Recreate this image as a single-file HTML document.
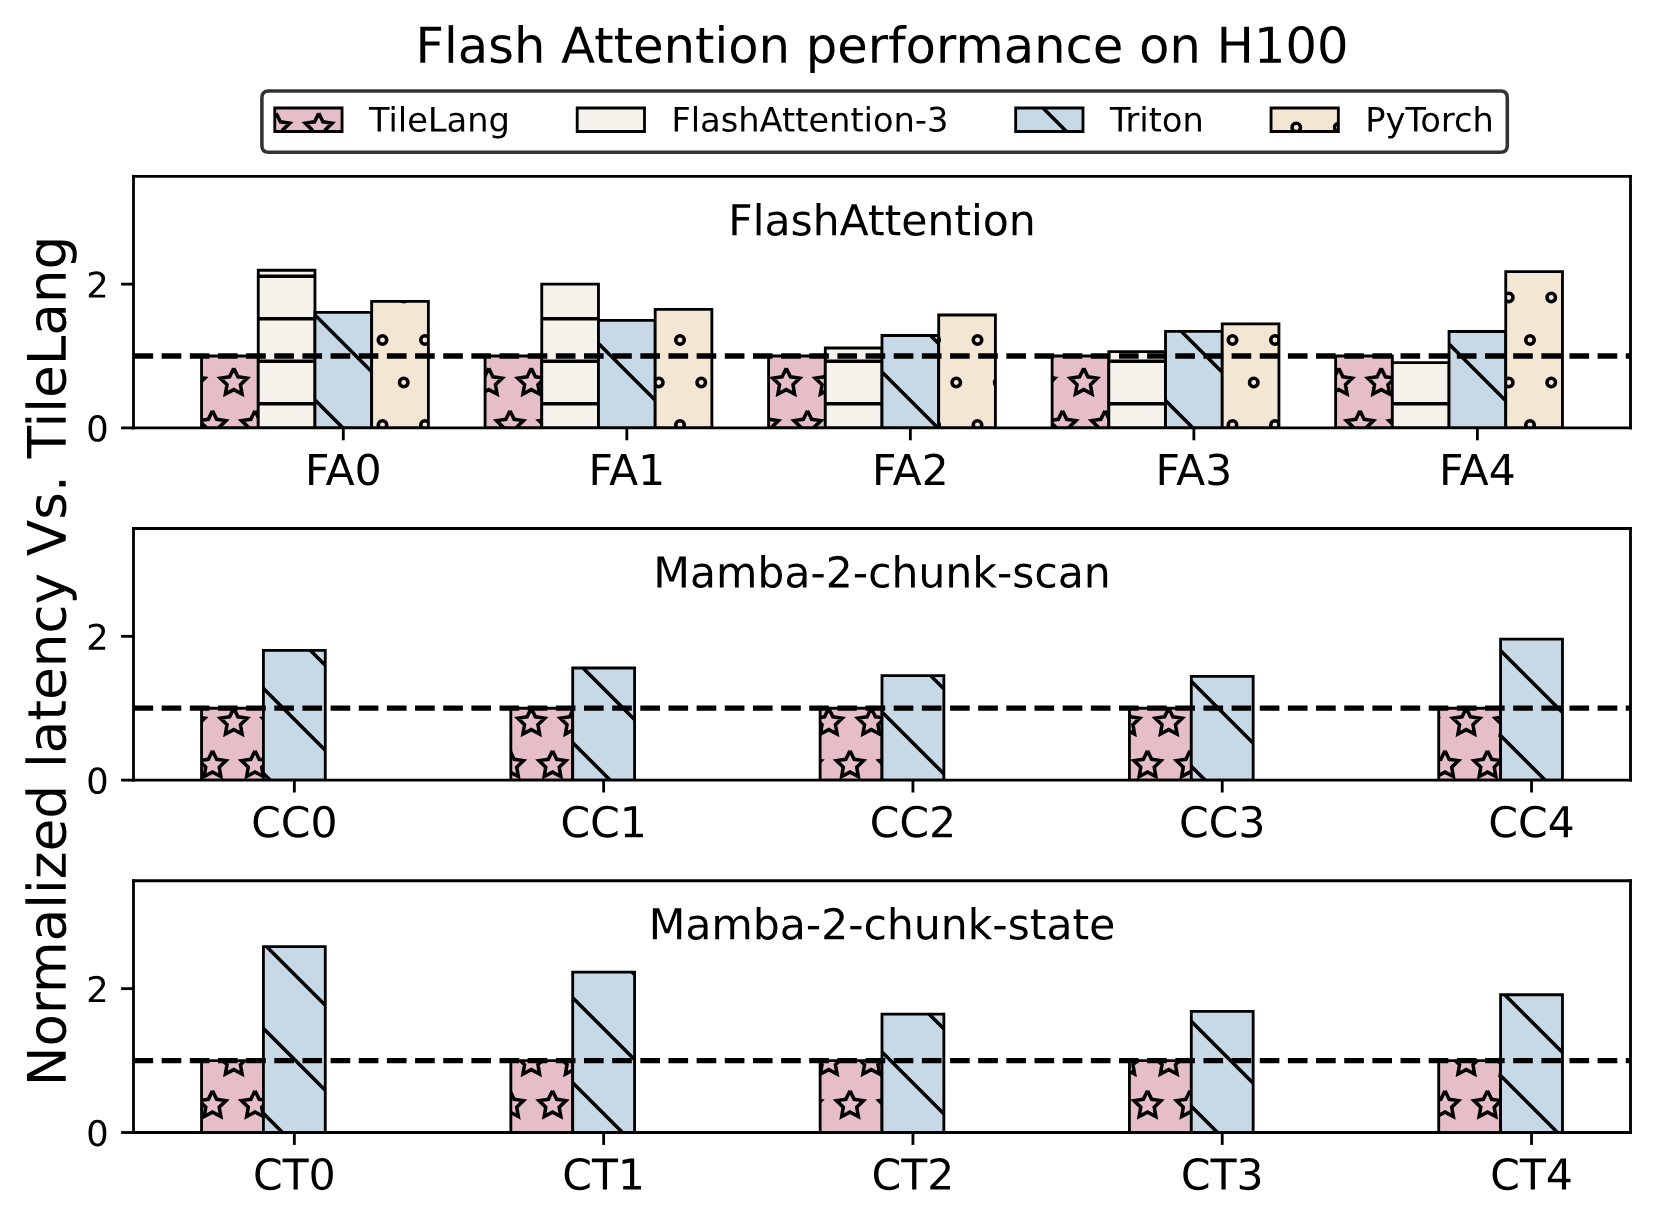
<!DOCTYPE html>
<html><head><meta charset="utf-8"><title>Flash Attention performance on H100</title>
<style>html,body{margin:0;padding:0;background:#fff;font-family:"Liberation Sans",sans-serif}svg{display:block}</style>
</head><body>
<svg width="1655" height="1224" viewBox="0 0 467.294118 345.6" style="display:block"> <defs> <style type="text/css">*{stroke-linejoin: round; stroke-linecap: butt}</style> </defs> <g id="figure_1"> <g id="patch_1"> <path d="M 0 345.6 L 467.294118 345.6 L 467.294118 0 L 0 0 z " style="fill: #ffffff"/> </g> <g id="axes_1"> <g id="patch_2"> <path d="M 37.694118 120.818824 L 460.376471 120.818824 L 460.376471 49.778824 L 37.694118 49.778824 z " style="fill: #ffffff"/> </g> <g id="patch_3"> <path d="M 56.906952 120.818824 L 72.917647 120.818824 L 72.917647 100.521681 L 56.906952 100.521681 z " clip-path="url(#pe64298fb3a)" style="fill: url(#h620132595f); stroke: #000000; stroke-width: 0.8; stroke-linejoin: miter"/> </g> <g id="patch_4"> <path d="M 136.960428 120.818824 L 152.971123 120.818824 L 152.971123 100.521681 L 136.960428 100.521681 z " clip-path="url(#pe64298fb3a)" style="fill: url(#h620132595f); stroke: #000000; stroke-width: 0.8; stroke-linejoin: miter"/> </g> <g id="patch_5"> <path d="M 217.013904 120.818824 L 233.024599 120.818824 L 233.024599 100.521681 L 217.013904 100.521681 z " clip-path="url(#pe64298fb3a)" style="fill: url(#h620132595f); stroke: #000000; stroke-width: 0.8; stroke-linejoin: miter"/> </g> <g id="patch_6"> <path d="M 297.06738 120.818824 L 313.078075 120.818824 L 313.078075 100.521681 L 297.06738 100.521681 z " clip-path="url(#pe64298fb3a)" style="fill: url(#h620132595f); stroke: #000000; stroke-width: 0.8; stroke-linejoin: miter"/> </g> <g id="patch_7"> <path d="M 377.120856 120.818824 L 393.131551 120.818824 L 393.131551 100.521681 L 377.120856 100.521681 z " clip-path="url(#pe64298fb3a)" style="fill: url(#h620132595f); stroke: #000000; stroke-width: 0.8; stroke-linejoin: miter"/> </g> <g id="patch_8"> <path d="M 72.917647 120.818824 L 88.928342 120.818824 L 88.928342 76.307189 L 72.917647 76.307189 z " clip-path="url(#pe64298fb3a)" style="fill: url(#h289ddef355); stroke: #000000; stroke-width: 0.8; stroke-linejoin: miter"/> </g> <g id="patch_9"> <path d="M 152.971123 120.818824 L 168.981818 120.818824 L 168.981818 80.224538 L 152.971123 80.224538 z " clip-path="url(#pe64298fb3a)" style="fill: url(#h289ddef355); stroke: #000000; stroke-width: 0.8; stroke-linejoin: miter"/> </g> <g id="patch_10"> <path d="M 233.024599 120.818824 L 249.035294 120.818824 L 249.035294 98.248401 L 233.024599 98.248401 z " clip-path="url(#pe64298fb3a)" style="fill: url(#h289ddef355); stroke: #000000; stroke-width: 0.8; stroke-linejoin: miter"/> </g> <g id="patch_11"> <path d="M 313.078075 120.818824 L 329.08877 120.818824 L 329.08877 99.263258 L 313.078075 99.263258 z " clip-path="url(#pe64298fb3a)" style="fill: url(#h289ddef355); stroke: #000000; stroke-width: 0.8; stroke-linejoin: miter"/> </g> <g id="patch_12"> <path d="M 393.131551 120.818824 L 409.142246 120.818824 L 409.142246 102.368721 L 393.131551 102.368721 z " clip-path="url(#pe64298fb3a)" style="fill: url(#h289ddef355); stroke: #000000; stroke-width: 0.8; stroke-linejoin: miter"/> </g> <g id="patch_13"> <path d="M 88.928342 120.818824 L 104.939037 120.818824 L 104.939037 88.221612 L 88.928342 88.221612 z " clip-path="url(#pe64298fb3a)" style="fill: url(#h3085ee2d03); stroke: #000000; stroke-width: 0.8; stroke-linejoin: miter"/> </g> <g id="patch_14"> <path d="M 168.981818 120.818824 L 184.992513 120.818824 L 184.992513 90.454298 L 168.981818 90.454298 z " clip-path="url(#pe64298fb3a)" style="fill: url(#h3085ee2d03); stroke: #000000; stroke-width: 0.8; stroke-linejoin: miter"/> </g> <g id="patch_15"> <path d="M 249.035294 120.818824 L 265.045989 120.818824 L 265.045989 94.736995 L 249.035294 94.736995 z " clip-path="url(#pe64298fb3a)" style="fill: url(#h3085ee2d03); stroke: #000000; stroke-width: 0.8; stroke-linejoin: miter"/> </g> <g id="patch_16"> <path d="M 329.08877 120.818824 L 345.099465 120.818824 L 345.099465 93.580058 L 329.08877 93.580058 z " clip-path="url(#pe64298fb3a)" style="fill: url(#h3085ee2d03); stroke: #000000; stroke-width: 0.8; stroke-linejoin: miter"/> </g> <g id="patch_17"> <path d="M 409.142246 120.818824 L 425.152941 120.818824 L 425.152941 93.600355 L 409.142246 93.600355 z " clip-path="url(#pe64298fb3a)" style="fill: url(#h3085ee2d03); stroke: #000000; stroke-width: 0.8; stroke-linejoin: miter"/> </g> <g id="patch_18"> <path d="M 104.939037 120.818824 L 120.949733 120.818824 L 120.949733 85.116149 L 104.939037 85.116149 z " clip-path="url(#pe64298fb3a)" style="fill: url(#h5ad2b0692a); stroke: #000000; stroke-width: 0.8; stroke-linejoin: miter"/> </g> <g id="patch_19"> <path d="M 184.992513 120.818824 L 201.003209 120.818824 L 201.003209 87.348835 L 184.992513 87.348835 z " clip-path="url(#pe64298fb3a)" style="fill: url(#h5ad2b0692a); stroke: #000000; stroke-width: 0.8; stroke-linejoin: miter"/> </g> <g id="patch_20"> <path d="M 265.045989 120.818824 L 281.056684 120.818824 L 281.056684 88.932012 L 265.045989 88.932012 z " clip-path="url(#pe64298fb3a)" style="fill: url(#h5ad2b0692a); stroke: #000000; stroke-width: 0.8; stroke-linejoin: miter"/> </g> <g id="patch_21"> <path d="M 345.099465 120.818824 L 361.11016 120.818824 L 361.11016 91.448858 L 345.099465 91.448858 z " clip-path="url(#pe64298fb3a)" style="fill: url(#h5ad2b0692a); stroke: #000000; stroke-width: 0.8; stroke-linejoin: miter"/> </g> <g id="patch_22"> <path d="M 425.152941 120.818824 L 441.163636 120.818824 L 441.163636 76.672538 L 425.152941 76.672538 z " clip-path="url(#pe64298fb3a)" style="fill: url(#h5ad2b0692a); stroke: #000000; stroke-width: 0.8; stroke-linejoin: miter"/> </g> <g id="matplotlib.axis_1"> <g id="xtick_1"> <g id="line2d_1"> <defs> <path id="m1504cfccaf" d="M 0 0 L 0 3.5 " style="stroke: #000000; stroke-width: 0.8"/> </defs> <g> <use href="#m1504cfccaf" x="96.93369" y="120.818824" style="stroke: #000000; stroke-width: 0.8"/> </g> </g> <g id="text_1"> <!-- FA0 --> <g transform="translate(86.108377 136.936949) scale(0.12 -0.12)"> <defs> <path id="DejaVuSans-46" d="M 628 4666 L 3309 4666 L 3309 4134 L 1259 4134 L 1259 2759 L 3109 2759 L 3109 2228 L 1259 2228 L 1259 0 L 628 0 L 628 4666 z " transform="scale(0.015625)"/> <path id="DejaVuSans-41" d="M 2188 4044 L 1331 1722 L 3047 1722 L 2188 4044 z M 1831 4666 L 2547 4666 L 4325 0 L 3669 0 L 3244 1197 L 1141 1197 L 716 0 L 50 0 L 1831 4666 z " transform="scale(0.015625)"/> <path id="DejaVuSans-30" d="M 2034 4250 Q 1547 4250 1301 3770 Q 1056 3291 1056 2328 Q 1056 1369 1301 889 Q 1547 409 2034 409 Q 2525 409 2770 889 Q 3016 1369 3016 2328 Q 3016 3291 2770 3770 Q 2525 4250 2034 4250 z M 2034 4750 Q 2819 4750 3233 4129 Q 3647 3509 3647 2328 Q 3647 1150 3233 529 Q 2819 -91 2034 -91 Q 1250 -91 836 529 Q 422 1150 422 2328 Q 422 3509 836 4129 Q 1250 4750 2034 4750 z " transform="scale(0.015625)"/> </defs> <use href="#DejaVuSans-46"/> <use href="#DejaVuSans-41" transform="translate(48.394531 0)"/> <use href="#DejaVuSans-30" transform="translate(116.802734 0)"/> </g> </g> </g> <g id="xtick_2"> <g id="line2d_2"> <g> <use href="#m1504cfccaf" x="176.987166" y="120.818824" style="stroke: #000000; stroke-width: 0.8"/> </g> </g> <g id="text_2"> <!-- FA1 --> <g transform="translate(166.161853 136.936949) scale(0.12 -0.12)"> <defs> <path id="DejaVuSans-31" d="M 794 531 L 1825 531 L 1825 4091 L 703 3866 L 703 4441 L 1819 4666 L 2450 4666 L 2450 531 L 3481 531 L 3481 0 L 794 0 L 794 531 z " transform="scale(0.015625)"/> </defs> <use href="#DejaVuSans-46"/> <use href="#DejaVuSans-41" transform="translate(48.394531 0)"/> <use href="#DejaVuSans-31" transform="translate(116.802734 0)"/> </g> </g> </g> <g id="xtick_3"> <g id="line2d_3"> <g> <use href="#m1504cfccaf" x="257.040642" y="120.818824" style="stroke: #000000; stroke-width: 0.8"/> </g> </g> <g id="text_3"> <!-- FA2 --> <g transform="translate(246.215329 136.936949) scale(0.12 -0.12)"> <defs> <path id="DejaVuSans-32" d="M 1228 531 L 3431 531 L 3431 0 L 469 0 L 469 531 Q 828 903 1448 1529 Q 2069 2156 2228 2338 Q 2531 2678 2651 2914 Q 2772 3150 2772 3378 Q 2772 3750 2511 3984 Q 2250 4219 1831 4219 Q 1534 4219 1204 4116 Q 875 4013 500 3803 L 500 4441 Q 881 4594 1212 4672 Q 1544 4750 1819 4750 Q 2544 4750 2975 4387 Q 3406 4025 3406 3419 Q 3406 3131 3298 2873 Q 3191 2616 2906 2266 Q 2828 2175 2409 1742 Q 1991 1309 1228 531 z " transform="scale(0.015625)"/> </defs> <use href="#DejaVuSans-46"/> <use href="#DejaVuSans-41" transform="translate(48.394531 0)"/> <use href="#DejaVuSans-32" transform="translate(116.802734 0)"/> </g> </g> </g> <g id="xtick_4"> <g id="line2d_4"> <g> <use href="#m1504cfccaf" x="337.094118" y="120.818824" style="stroke: #000000; stroke-width: 0.8"/> </g> </g> <g id="text_4"> <!-- FA3 --> <g transform="translate(326.268805 136.936949) scale(0.12 -0.12)"> <defs> <path id="DejaVuSans-33" d="M 2597 2516 Q 3050 2419 3304 2112 Q 3559 1806 3559 1356 Q 3559 666 3084 287 Q 2609 -91 1734 -91 Q 1441 -91 1130 -33 Q 819 25 488 141 L 488 750 Q 750 597 1062 519 Q 1375 441 1716 441 Q 2309 441 2620 675 Q 2931 909 2931 1356 Q 2931 1769 2642 2001 Q 2353 2234 1838 2234 L 1294 2234 L 1294 2753 L 1863 2753 Q 2328 2753 2575 2939 Q 2822 3125 2822 3475 Q 2822 3834 2567 4026 Q 2313 4219 1838 4219 Q 1578 4219 1281 4162 Q 984 4106 628 3988 L 628 4550 Q 988 4650 1302 4700 Q 1616 4750 1894 4750 Q 2613 4750 3031 4423 Q 3450 4097 3450 3541 Q 3450 3153 3228 2886 Q 3006 2619 2597 2516 z " transform="scale(0.015625)"/> </defs> <use href="#DejaVuSans-46"/> <use href="#DejaVuSans-41" transform="translate(48.394531 0)"/> <use href="#DejaVuSans-33" transform="translate(116.802734 0)"/> </g> </g> </g> <g id="xtick_5"> <g id="line2d_5"> <g> <use href="#m1504cfccaf" x="417.147594" y="120.818824" style="stroke: #000000; stroke-width: 0.8"/> </g> </g> <g id="text_5"> <!-- FA4 --> <g transform="translate(406.322281 136.936949) scale(0.12 -0.12)"> <defs> <path id="DejaVuSans-34" d="M 2419 4116 L 825 1625 L 2419 1625 L 2419 4116 z M 2253 4666 L 3047 4666 L 3047 1625 L 3713 1625 L 3713 1100 L 3047 1100 L 3047 0 L 2419 0 L 2419 1100 L 313 1100 L 313 1709 L 2253 4666 z " transform="scale(0.015625)"/> </defs> <use href="#DejaVuSans-46"/> <use href="#DejaVuSans-41" transform="translate(48.394531 0)"/> <use href="#DejaVuSans-34" transform="translate(116.802734 0)"/> </g> </g> </g> </g> <g id="matplotlib.axis_2"> <g id="ytick_1"> <g id="line2d_6"> <defs> <path id="m5d545ce8f8" d="M 0 0 L -3.5 0 " style="stroke: #000000; stroke-width: 0.8"/> </defs> <g> <use href="#m5d545ce8f8" x="37.694118" y="120.818824" style="stroke: #000000; stroke-width: 0.8"/> </g> </g> <g id="text_6"> <!-- 0 --> <g transform="translate(24.331618 124.618042) scale(0.1 -0.1)"> <use href="#DejaVuSans-30"/> </g> </g> </g> <g id="ytick_2"> <g id="line2d_7"> <g> <use href="#m5d545ce8f8" x="37.694118" y="80.224538" style="stroke: #000000; stroke-width: 0.8"/> </g> </g> <g id="text_7"> <!-- 2 --> <g transform="translate(24.331618 84.023757) scale(0.1 -0.1)"> <use href="#DejaVuSans-32"/> </g> </g> </g> </g> <g id="line2d_8"> <path d="M 37.694118 100.521681 L 460.376471 100.521681 " clip-path="url(#pe64298fb3a)" style="fill: none; stroke-dasharray: 5.55,2.4; stroke-dashoffset: 0; stroke: #000000; stroke-width: 1.5"/> </g> <g id="patch_23"> <path d="M 37.694118 120.818824 L 37.694118 49.778824 " style="fill: none; stroke: #000000; stroke-width: 0.8; stroke-linejoin: miter; stroke-linecap: square"/> </g> <g id="patch_24"> <path d="M 460.376471 120.818824 L 460.376471 49.778824 " style="fill: none; stroke: #000000; stroke-width: 0.8; stroke-linejoin: miter; stroke-linecap: square"/> </g> <g id="patch_25"> <path d="M 37.694118 120.818824 L 460.376471 120.818824 " style="fill: none; stroke: #000000; stroke-width: 0.8; stroke-linejoin: miter; stroke-linecap: square"/> </g> <g id="patch_26"> <path d="M 37.694118 49.778824 L 460.376471 49.778824 " style="fill: none; stroke: #000000; stroke-width: 0.8; stroke-linejoin: miter; stroke-linecap: square"/> </g> </g> <g id="axes_2"> <g id="patch_27"> <path d="M 37.694118 220.263529 L 460.376471 220.263529 L 460.376471 149.223529 L 37.694118 149.223529 z " style="fill: #ffffff"/> </g> <g id="patch_28"> <path d="M 56.906952 220.263529 L 74.373165 220.263529 L 74.373165 199.966387 L 56.906952 199.966387 z " clip-path="url(#p5a25ac48e3)" style="fill: url(#h620132595f); stroke: #000000; stroke-width: 0.8; stroke-linejoin: miter"/> </g> <g id="patch_29"> <path d="M 144.238017 220.263529 L 161.704229 220.263529 L 161.704229 199.966387 L 144.238017 199.966387 z " clip-path="url(#p5a25ac48e3)" style="fill: url(#h620132595f); stroke: #000000; stroke-width: 0.8; stroke-linejoin: miter"/> </g> <g id="patch_30"> <path d="M 231.569081 220.263529 L 249.035294 220.263529 L 249.035294 199.966387 L 231.569081 199.966387 z " clip-path="url(#p5a25ac48e3)" style="fill: url(#h620132595f); stroke: #000000; stroke-width: 0.8; stroke-linejoin: miter"/> </g> <g id="patch_31"> <path d="M 318.900146 220.263529 L 336.366359 220.263529 L 336.366359 199.966387 L 318.900146 199.966387 z " clip-path="url(#p5a25ac48e3)" style="fill: url(#h620132595f); stroke: #000000; stroke-width: 0.8; stroke-linejoin: miter"/> </g> <g id="patch_32"> <path d="M 406.231211 220.263529 L 423.697423 220.263529 L 423.697423 199.966387 L 406.231211 199.966387 z " clip-path="url(#p5a25ac48e3)" style="fill: url(#h620132595f); stroke: #000000; stroke-width: 0.8; stroke-linejoin: miter"/> </g> <g id="patch_33"> <path d="M 74.373165 220.263529 L 91.839378 220.263529 L 91.839378 183.647484 L 74.373165 183.647484 z " clip-path="url(#p5a25ac48e3)" style="fill: url(#h3085ee2d03); stroke: #000000; stroke-width: 0.8; stroke-linejoin: miter"/> </g> <g id="patch_34"> <path d="M 161.704229 220.263529 L 179.170442 220.263529 L 179.170442 188.620284 L 161.704229 188.620284 z " clip-path="url(#p5a25ac48e3)" style="fill: url(#h3085ee2d03); stroke: #000000; stroke-width: 0.8; stroke-linejoin: miter"/> </g> <g id="patch_35"> <path d="M 249.035294 220.263529 L 266.501507 220.263529 L 266.501507 190.741335 L 249.035294 190.741335 z " clip-path="url(#p5a25ac48e3)" style="fill: url(#h3085ee2d03); stroke: #000000; stroke-width: 0.8; stroke-linejoin: miter"/> </g> <g id="patch_36"> <path d="M 336.366359 220.263529 L 353.832572 220.263529 L 353.832572 190.995049 L 336.366359 190.995049 z " clip-path="url(#p5a25ac48e3)" style="fill: url(#h3085ee2d03); stroke: #000000; stroke-width: 0.8; stroke-linejoin: miter"/> </g> <g id="patch_37"> <path d="M 423.697423 220.263529 L 441.163636 220.263529 L 441.163636 180.440535 L 423.697423 180.440535 z " clip-path="url(#p5a25ac48e3)" style="fill: url(#h3085ee2d03); stroke: #000000; stroke-width: 0.8; stroke-linejoin: miter"/> </g> <g id="matplotlib.axis_3"> <g id="xtick_6"> <g id="line2d_9"> <g> <use href="#m1504cfccaf" x="83.106271" y="220.263529" style="stroke: #000000; stroke-width: 0.8"/> </g> </g> <g id="text_8"> <!-- CC0 --> <g transform="translate(70.909396 236.381654) scale(0.12 -0.12)"> <defs> <path id="DejaVuSans-43" d="M 4122 4306 L 4122 3641 Q 3803 3938 3442 4084 Q 3081 4231 2675 4231 Q 1875 4231 1450 3742 Q 1025 3253 1025 2328 Q 1025 1406 1450 917 Q 1875 428 2675 428 Q 3081 428 3442 575 Q 3803 722 4122 1019 L 4122 359 Q 3791 134 3420 21 Q 3050 -91 2638 -91 Q 1578 -91 968 557 Q 359 1206 359 2328 Q 359 3453 968 4101 Q 1578 4750 2638 4750 Q 3056 4750 3426 4639 Q 3797 4528 4122 4306 z " transform="scale(0.015625)"/> </defs> <use href="#DejaVuSans-43"/> <use href="#DejaVuSans-43" transform="translate(69.824219 0)"/> <use href="#DejaVuSans-30" transform="translate(139.648438 0)"/> </g> </g> </g> <g id="xtick_7"> <g id="line2d_10"> <g> <use href="#m1504cfccaf" x="170.437336" y="220.263529" style="stroke: #000000; stroke-width: 0.8"/> </g> </g> <g id="text_9"> <!-- CC1 --> <g transform="translate(158.240461 236.381654) scale(0.12 -0.12)"> <use href="#DejaVuSans-43"/> <use href="#DejaVuSans-43" transform="translate(69.824219 0)"/> <use href="#DejaVuSans-31" transform="translate(139.648438 0)"/> </g> </g> </g> <g id="xtick_8"> <g id="line2d_11"> <g> <use href="#m1504cfccaf" x="257.768401" y="220.263529" style="stroke: #000000; stroke-width: 0.8"/> </g> </g> <g id="text_10"> <!-- CC2 --> <g transform="translate(245.571526 236.381654) scale(0.12 -0.12)"> <use href="#DejaVuSans-43"/> <use href="#DejaVuSans-43" transform="translate(69.824219 0)"/> <use href="#DejaVuSans-32" transform="translate(139.648438 0)"/> </g> </g> </g> <g id="xtick_9"> <g id="line2d_12"> <g> <use href="#m1504cfccaf" x="345.099465" y="220.263529" style="stroke: #000000; stroke-width: 0.8"/> </g> </g> <g id="text_11"> <!-- CC3 --> <g transform="translate(332.90259 236.381654) scale(0.12 -0.12)"> <use href="#DejaVuSans-43"/> <use href="#DejaVuSans-43" transform="translate(69.824219 0)"/> <use href="#DejaVuSans-33" transform="translate(139.648438 0)"/> </g> </g> </g> <g id="xtick_10"> <g id="line2d_13"> <g> <use href="#m1504cfccaf" x="432.43053" y="220.263529" style="stroke: #000000; stroke-width: 0.8"/> </g> </g> <g id="text_12"> <!-- CC4 --> <g transform="translate(420.233655 236.381654) scale(0.12 -0.12)"> <use href="#DejaVuSans-43"/> <use href="#DejaVuSans-43" transform="translate(69.824219 0)"/> <use href="#DejaVuSans-34" transform="translate(139.648438 0)"/> </g> </g> </g> </g> <g id="matplotlib.axis_4"> <g id="ytick_3"> <g id="line2d_14"> <g> <use href="#m5d545ce8f8" x="37.694118" y="220.263529" style="stroke: #000000; stroke-width: 0.8"/> </g> </g> <g id="text_13"> <!-- 0 --> <g transform="translate(24.331618 224.062748) scale(0.1 -0.1)"> <use href="#DejaVuSans-30"/> </g> </g> </g> <g id="ytick_4"> <g id="line2d_15"> <g> <use href="#m5d545ce8f8" x="37.694118" y="179.669244" style="stroke: #000000; stroke-width: 0.8"/> </g> </g> <g id="text_14"> <!-- 2 --> <g transform="translate(24.331618 183.468462) scale(0.1 -0.1)"> <use href="#DejaVuSans-32"/> </g> </g> </g> </g> <g id="line2d_16"> <path d="M 37.694118 199.966387 L 460.376471 199.966387 " clip-path="url(#p5a25ac48e3)" style="fill: none; stroke-dasharray: 5.55,2.4; stroke-dashoffset: 0; stroke: #000000; stroke-width: 1.5"/> </g> <g id="patch_38"> <path d="M 37.694118 220.263529 L 37.694118 149.223529 " style="fill: none; stroke: #000000; stroke-width: 0.8; stroke-linejoin: miter; stroke-linecap: square"/> </g> <g id="patch_39"> <path d="M 460.376471 220.263529 L 460.376471 149.223529 " style="fill: none; stroke: #000000; stroke-width: 0.8; stroke-linejoin: miter; stroke-linecap: square"/> </g> <g id="patch_40"> <path d="M 37.694118 220.263529 L 460.376471 220.263529 " style="fill: none; stroke: #000000; stroke-width: 0.8; stroke-linejoin: miter; stroke-linecap: square"/> </g> <g id="patch_41"> <path d="M 37.694118 149.223529 L 460.376471 149.223529 " style="fill: none; stroke: #000000; stroke-width: 0.8; stroke-linejoin: miter; stroke-linecap: square"/> </g> </g> <g id="axes_3"> <g id="patch_42"> <path d="M 37.694118 319.764706 L 460.376471 319.764706 L 460.376471 248.682353 L 37.694118 248.682353 z " style="fill: #ffffff"/> </g> <g id="patch_43"> <path d="M 56.906952 319.764706 L 74.373165 319.764706 L 74.373165 299.455462 L 56.906952 299.455462 z " clip-path="url(#pf09d3c4350)" style="fill: url(#h620132595f); stroke: #000000; stroke-width: 0.8; stroke-linejoin: miter"/> </g> <g id="patch_44"> <path d="M 144.238017 319.764706 L 161.704229 319.764706 L 161.704229 299.455462 L 144.238017 299.455462 z " clip-path="url(#pf09d3c4350)" style="fill: url(#h620132595f); stroke: #000000; stroke-width: 0.8; stroke-linejoin: miter"/> </g> <g id="patch_45"> <path d="M 231.569081 319.764706 L 249.035294 319.764706 L 249.035294 299.455462 L 231.569081 299.455462 z " clip-path="url(#pf09d3c4350)" style="fill: url(#h620132595f); stroke: #000000; stroke-width: 0.8; stroke-linejoin: miter"/> </g> <g id="patch_46"> <path d="M 318.900146 319.764706 L 336.366359 319.764706 L 336.366359 299.455462 L 318.900146 299.455462 z " clip-path="url(#pf09d3c4350)" style="fill: url(#h620132595f); stroke: #000000; stroke-width: 0.8; stroke-linejoin: miter"/> </g> <g id="patch_47"> <path d="M 406.231211 319.764706 L 423.697423 319.764706 L 423.697423 299.455462 L 406.231211 299.455462 z " clip-path="url(#pf09d3c4350)" style="fill: url(#h620132595f); stroke: #000000; stroke-width: 0.8; stroke-linejoin: miter"/> </g> <g id="patch_48"> <path d="M 74.373165 319.764706 L 91.839378 319.764706 L 91.839378 267.28562 L 74.373165 267.28562 z " clip-path="url(#pf09d3c4350)" style="fill: url(#h3085ee2d03); stroke: #000000; stroke-width: 0.8; stroke-linejoin: miter"/> </g> <g id="patch_49"> <path d="M 161.704229 319.764706 L 179.170442 319.764706 L 179.170442 274.475092 L 161.704229 274.475092 z " clip-path="url(#pf09d3c4350)" style="fill: url(#h3085ee2d03); stroke: #000000; stroke-width: 0.8; stroke-linejoin: miter"/> </g> <g id="patch_50"> <path d="M 249.035294 319.764706 L 266.501507 319.764706 L 266.501507 286.356 L 249.035294 286.356 z " clip-path="url(#pf09d3c4350)" style="fill: url(#h3085ee2d03); stroke: #000000; stroke-width: 0.8; stroke-linejoin: miter"/> </g> <g id="patch_51"> <path d="M 336.366359 319.764706 L 353.832572 319.764706 L 353.832572 285.54363 L 336.366359 285.54363 z " clip-path="url(#pf09d3c4350)" style="fill: url(#h3085ee2d03); stroke: #000000; stroke-width: 0.8; stroke-linejoin: miter"/> </g> <g id="patch_52"> <path d="M 423.697423 319.764706 L 441.163636 319.764706 L 441.163636 280.872504 L 423.697423 280.872504 z " clip-path="url(#pf09d3c4350)" style="fill: url(#h3085ee2d03); stroke: #000000; stroke-width: 0.8; stroke-linejoin: miter"/> </g> <g id="matplotlib.axis_5"> <g id="xtick_11"> <g id="line2d_17"> <g> <use href="#m1504cfccaf" x="83.106271" y="319.764706" style="stroke: #000000; stroke-width: 0.8"/> </g> </g> <g id="text_15"> <!-- CT0 --> <g transform="translate(71.434396 335.882831) scale(0.12 -0.12)"> <defs> <path id="DejaVuSans-54" d="M -19 4666 L 3928 4666 L 3928 4134 L 2272 4134 L 2272 0 L 1638 0 L 1638 4134 L -19 4134 L -19 4666 z " transform="scale(0.015625)"/> </defs> <use href="#DejaVuSans-43"/> <use href="#DejaVuSans-54" transform="translate(69.824219 0)"/> <use href="#DejaVuSans-30" transform="translate(130.908203 0)"/> </g> </g> </g> <g id="xtick_12"> <g id="line2d_18"> <g> <use href="#m1504cfccaf" x="170.437336" y="319.764706" style="stroke: #000000; stroke-width: 0.8"/> </g> </g> <g id="text_16"> <!-- CT1 --> <g transform="translate(158.765461 335.882831) scale(0.12 -0.12)"> <use href="#DejaVuSans-43"/> <use href="#DejaVuSans-54" transform="translate(69.824219 0)"/> <use href="#DejaVuSans-31" transform="translate(130.908203 0)"/> </g> </g> </g> <g id="xtick_13"> <g id="line2d_19"> <g> <use href="#m1504cfccaf" x="257.768401" y="319.764706" style="stroke: #000000; stroke-width: 0.8"/> </g> </g> <g id="text_17"> <!-- CT2 --> <g transform="translate(246.096526 335.882831) scale(0.12 -0.12)"> <use href="#DejaVuSans-43"/> <use href="#DejaVuSans-54" transform="translate(69.824219 0)"/> <use href="#DejaVuSans-32" transform="translate(130.908203 0)"/> </g> </g> </g> <g id="xtick_14"> <g id="line2d_20"> <g> <use href="#m1504cfccaf" x="345.099465" y="319.764706" style="stroke: #000000; stroke-width: 0.8"/> </g> </g> <g id="text_18"> <!-- CT3 --> <g transform="translate(333.42759 335.882831) scale(0.12 -0.12)"> <use href="#DejaVuSans-43"/> <use href="#DejaVuSans-54" transform="translate(69.824219 0)"/> <use href="#DejaVuSans-33" transform="translate(130.908203 0)"/> </g> </g> </g> <g id="xtick_15"> <g id="line2d_21"> <g> <use href="#m1504cfccaf" x="432.43053" y="319.764706" style="stroke: #000000; stroke-width: 0.8"/> </g> </g> <g id="text_19"> <!-- CT4 --> <g transform="translate(420.758655 335.882831) scale(0.12 -0.12)"> <use href="#DejaVuSans-43"/> <use href="#DejaVuSans-54" transform="translate(69.824219 0)"/> <use href="#DejaVuSans-34" transform="translate(130.908203 0)"/> </g> </g> </g> </g> <g id="matplotlib.axis_6"> <g id="ytick_5"> <g id="line2d_22"> <g> <use href="#m5d545ce8f8" x="37.694118" y="319.764706" style="stroke: #000000; stroke-width: 0.8"/> </g> </g> <g id="text_20"> <!-- 0 --> <g transform="translate(24.331618 323.563925) scale(0.1 -0.1)"> <use href="#DejaVuSans-30"/> </g> </g> </g> <g id="ytick_6"> <g id="line2d_23"> <g> <use href="#m5d545ce8f8" x="37.694118" y="279.146218" style="stroke: #000000; stroke-width: 0.8"/> </g> </g> <g id="text_21"> <!-- 2 --> <g transform="translate(24.331618 282.945437) scale(0.1 -0.1)"> <use href="#DejaVuSans-32"/> </g> </g> </g> </g> <g id="line2d_24"> <path d="M 37.694118 299.455462 L 460.376471 299.455462 " clip-path="url(#pf09d3c4350)" style="fill: none; stroke-dasharray: 5.55,2.4; stroke-dashoffset: 0; stroke: #000000; stroke-width: 1.5"/> </g> <g id="patch_53"> <path d="M 37.694118 319.764706 L 37.694118 248.682353 " style="fill: none; stroke: #000000; stroke-width: 0.8; stroke-linejoin: miter; stroke-linecap: square"/> </g> <g id="patch_54"> <path d="M 460.376471 319.764706 L 460.376471 248.682353 " style="fill: none; stroke: #000000; stroke-width: 0.8; stroke-linejoin: miter; stroke-linecap: square"/> </g> <g id="patch_55"> <path d="M 37.694118 319.764706 L 460.376471 319.764706 " style="fill: none; stroke: #000000; stroke-width: 0.8; stroke-linejoin: miter; stroke-linecap: square"/> </g> <g id="patch_56"> <path d="M 37.694118 248.682353 L 460.376471 248.682353 " style="fill: none; stroke: #000000; stroke-width: 0.8; stroke-linejoin: miter; stroke-linecap: square"/> </g> </g> <g id="patch_57"> <path d="M 75.848243 42.974118 L 423.69058 42.974118 Q 425.590588 42.974118 425.590588 41.07411 L 425.590588 27.56589 Q 425.590588 25.665882 423.69058 25.665882 L 75.848243 25.665882 Q 73.948235 25.665882 73.948235 27.56589 L 73.948235 41.07411 Q 73.948235 42.974118 75.848243 42.974118 L 75.848243 42.974118 z " style="fill: none; stroke: #333333; stroke-linejoin: miter"/> </g> <g id="text_22"> <!-- FlashAttention --> <g transform="translate(205.621544 66.437647) scale(0.12 -0.12)"> <defs> <path id="DejaVuSans-6c" d="M 603 4863 L 1178 4863 L 1178 0 L 603 0 L 603 4863 z " transform="scale(0.015625)"/> <path id="DejaVuSans-61" d="M 2194 1759 Q 1497 1759 1228 1600 Q 959 1441 959 1056 Q 959 750 1161 570 Q 1363 391 1709 391 Q 2188 391 2477 730 Q 2766 1069 2766 1631 L 2766 1759 L 2194 1759 z M 3341 1997 L 3341 0 L 2766 0 L 2766 531 Q 2569 213 2275 61 Q 1981 -91 1556 -91 Q 1019 -91 701 211 Q 384 513 384 1019 Q 384 1609 779 1909 Q 1175 2209 1959 2209 L 2766 2209 L 2766 2266 Q 2766 2663 2505 2880 Q 2244 3097 1772 3097 Q 1472 3097 1187 3025 Q 903 2953 641 2809 L 641 3341 Q 956 3463 1253 3523 Q 1550 3584 1831 3584 Q 2591 3584 2966 3190 Q 3341 2797 3341 1997 z " transform="scale(0.015625)"/> <path id="DejaVuSans-73" d="M 2834 3397 L 2834 2853 Q 2591 2978 2328 3040 Q 2066 3103 1784 3103 Q 1356 3103 1142 2972 Q 928 2841 928 2578 Q 928 2378 1081 2264 Q 1234 2150 1697 2047 L 1894 2003 Q 2506 1872 2764 1633 Q 3022 1394 3022 966 Q 3022 478 2636 193 Q 2250 -91 1575 -91 Q 1294 -91 989 -36 Q 684 19 347 128 L 347 722 Q 666 556 975 473 Q 1284 391 1588 391 Q 1994 391 2212 530 Q 2431 669 2431 922 Q 2431 1156 2273 1281 Q 2116 1406 1581 1522 L 1381 1569 Q 847 1681 609 1914 Q 372 2147 372 2553 Q 372 3047 722 3315 Q 1072 3584 1716 3584 Q 2034 3584 2315 3537 Q 2597 3491 2834 3397 z " transform="scale(0.015625)"/> <path id="DejaVuSans-68" d="M 3513 2113 L 3513 0 L 2938 0 L 2938 2094 Q 2938 2591 2744 2837 Q 2550 3084 2163 3084 Q 1697 3084 1428 2787 Q 1159 2491 1159 1978 L 1159 0 L 581 0 L 581 4863 L 1159 4863 L 1159 2956 Q 1366 3272 1645 3428 Q 1925 3584 2291 3584 Q 2894 3584 3203 3211 Q 3513 2838 3513 2113 z " transform="scale(0.015625)"/> <path id="DejaVuSans-74" d="M 1172 4494 L 1172 3500 L 2356 3500 L 2356 3053 L 1172 3053 L 1172 1153 Q 1172 725 1289 603 Q 1406 481 1766 481 L 2356 481 L 2356 0 L 1766 0 Q 1100 0 847 248 Q 594 497 594 1153 L 594 3053 L 172 3053 L 172 3500 L 594 3500 L 594 4494 L 1172 4494 z " transform="scale(0.015625)"/> <path id="DejaVuSans-65" d="M 3597 1894 L 3597 1613 L 953 1613 Q 991 1019 1311 708 Q 1631 397 2203 397 Q 2534 397 2845 478 Q 3156 559 3463 722 L 3463 178 Q 3153 47 2828 -22 Q 2503 -91 2169 -91 Q 1331 -91 842 396 Q 353 884 353 1716 Q 353 2575 817 3079 Q 1281 3584 2069 3584 Q 2775 3584 3186 3129 Q 3597 2675 3597 1894 z M 3022 2063 Q 3016 2534 2758 2815 Q 2500 3097 2075 3097 Q 1594 3097 1305 2825 Q 1016 2553 972 2059 L 3022 2063 z " transform="scale(0.015625)"/> <path id="DejaVuSans-6e" d="M 3513 2113 L 3513 0 L 2938 0 L 2938 2094 Q 2938 2591 2744 2837 Q 2550 3084 2163 3084 Q 1697 3084 1428 2787 Q 1159 2491 1159 1978 L 1159 0 L 581 0 L 581 3500 L 1159 3500 L 1159 2956 Q 1366 3272 1645 3428 Q 1925 3584 2291 3584 Q 2894 3584 3203 3211 Q 3513 2838 3513 2113 z " transform="scale(0.015625)"/> <path id="DejaVuSans-69" d="M 603 3500 L 1178 3500 L 1178 0 L 603 0 L 603 3500 z M 603 4863 L 1178 4863 L 1178 4134 L 603 4134 L 603 4863 z " transform="scale(0.015625)"/> <path id="DejaVuSans-6f" d="M 1959 3097 Q 1497 3097 1228 2736 Q 959 2375 959 1747 Q 959 1119 1226 758 Q 1494 397 1959 397 Q 2419 397 2687 759 Q 2956 1122 2956 1747 Q 2956 2369 2687 2733 Q 2419 3097 1959 3097 z M 1959 3584 Q 2709 3584 3137 3096 Q 3566 2609 3566 1747 Q 3566 888 3137 398 Q 2709 -91 1959 -91 Q 1206 -91 779 398 Q 353 888 353 1747 Q 353 2609 779 3096 Q 1206 3584 1959 3584 z " transform="scale(0.015625)"/> </defs> <use href="#DejaVuSans-46"/> <use href="#DejaVuSans-6c" transform="translate(57.519531 0)"/> <use href="#DejaVuSans-61" transform="translate(85.302734 0)"/> <use href="#DejaVuSans-73" transform="translate(146.582031 0)"/> <use href="#DejaVuSans-68" transform="translate(198.681641 0)"/> <use href="#DejaVuSans-41" transform="translate(262.060547 0)"/> <use href="#DejaVuSans-74" transform="translate(328.71875 0)"/> <use href="#DejaVuSans-74" transform="translate(367.927734 0)"/> <use href="#DejaVuSans-65" transform="translate(407.136719 0)"/> <use href="#DejaVuSans-6e" transform="translate(468.660156 0)"/> <use href="#DejaVuSans-74" transform="translate(532.039062 0)"/> <use href="#DejaVuSans-69" transform="translate(571.248047 0)"/> <use href="#DejaVuSans-6f" transform="translate(599.03125 0)"/> <use href="#DejaVuSans-6e" transform="translate(660.212891 0)"/> </g> </g> <g id="text_23"> <!-- Mamba-2-chunk-scan --> <g transform="translate(184.454669 165.854118) scale(0.12 -0.12)"> <defs> <path id="DejaVuSans-4d" d="M 628 4666 L 1569 4666 L 2759 1491 L 3956 4666 L 4897 4666 L 4897 0 L 4281 0 L 4281 4097 L 3078 897 L 2444 897 L 1241 4097 L 1241 0 L 628 0 L 628 4666 z " transform="scale(0.015625)"/> <path id="DejaVuSans-6d" d="M 3328 2828 Q 3544 3216 3844 3400 Q 4144 3584 4550 3584 Q 5097 3584 5394 3201 Q 5691 2819 5691 2113 L 5691 0 L 5113 0 L 5113 2094 Q 5113 2597 4934 2840 Q 4756 3084 4391 3084 Q 3944 3084 3684 2787 Q 3425 2491 3425 1978 L 3425 0 L 2847 0 L 2847 2094 Q 2847 2600 2669 2842 Q 2491 3084 2119 3084 Q 1678 3084 1418 2786 Q 1159 2488 1159 1978 L 1159 0 L 581 0 L 581 3500 L 1159 3500 L 1159 2956 Q 1356 3278 1631 3431 Q 1906 3584 2284 3584 Q 2666 3584 2933 3390 Q 3200 3197 3328 2828 z " transform="scale(0.015625)"/> <path id="DejaVuSans-62" d="M 3116 1747 Q 3116 2381 2855 2742 Q 2594 3103 2138 3103 Q 1681 3103 1420 2742 Q 1159 2381 1159 1747 Q 1159 1113 1420 752 Q 1681 391 2138 391 Q 2594 391 2855 752 Q 3116 1113 3116 1747 z M 1159 2969 Q 1341 3281 1617 3432 Q 1894 3584 2278 3584 Q 2916 3584 3314 3078 Q 3713 2572 3713 1747 Q 3713 922 3314 415 Q 2916 -91 2278 -91 Q 1894 -91 1617 61 Q 1341 213 1159 525 L 1159 0 L 581 0 L 581 4863 L 1159 4863 L 1159 2969 z " transform="scale(0.015625)"/> <path id="DejaVuSans-2d" d="M 313 2009 L 1997 2009 L 1997 1497 L 313 1497 L 313 2009 z " transform="scale(0.015625)"/> <path id="DejaVuSans-63" d="M 3122 3366 L 3122 2828 Q 2878 2963 2633 3030 Q 2388 3097 2138 3097 Q 1578 3097 1268 2742 Q 959 2388 959 1747 Q 959 1106 1268 751 Q 1578 397 2138 397 Q 2388 397 2633 464 Q 2878 531 3122 666 L 3122 134 Q 2881 22 2623 -34 Q 2366 -91 2075 -91 Q 1284 -91 818 406 Q 353 903 353 1747 Q 353 2603 823 3093 Q 1294 3584 2113 3584 Q 2378 3584 2631 3529 Q 2884 3475 3122 3366 z " transform="scale(0.015625)"/> <path id="DejaVuSans-75" d="M 544 1381 L 544 3500 L 1119 3500 L 1119 1403 Q 1119 906 1312 657 Q 1506 409 1894 409 Q 2359 409 2629 706 Q 2900 1003 2900 1516 L 2900 3500 L 3475 3500 L 3475 0 L 2900 0 L 2900 538 Q 2691 219 2414 64 Q 2138 -91 1772 -91 Q 1169 -91 856 284 Q 544 659 544 1381 z M 1991 3584 L 1991 3584 z " transform="scale(0.015625)"/> <path id="DejaVuSans-6b" d="M 581 4863 L 1159 4863 L 1159 1991 L 2875 3500 L 3609 3500 L 1753 1863 L 3688 0 L 2938 0 L 1159 1709 L 1159 0 L 581 0 L 581 4863 z " transform="scale(0.015625)"/> </defs> <use href="#DejaVuSans-4d"/> <use href="#DejaVuSans-61" transform="translate(86.279297 0)"/> <use href="#DejaVuSans-6d" transform="translate(147.558594 0)"/> <use href="#DejaVuSans-62" transform="translate(244.970703 0)"/> <use href="#DejaVuSans-61" transform="translate(308.447266 0)"/> <use href="#DejaVuSans-2d" transform="translate(369.726562 0)"/> <use href="#DejaVuSans-32" transform="translate(405.810547 0)"/> <use href="#DejaVuSans-2d" transform="translate(469.433594 0)"/> <use href="#DejaVuSans-63" transform="translate(505.517578 0)"/> <use href="#DejaVuSans-68" transform="translate(560.498047 0)"/> <use href="#DejaVuSans-75" transform="translate(623.876953 0)"/> <use href="#DejaVuSans-6e" transform="translate(687.255859 0)"/> <use href="#DejaVuSans-6b" transform="translate(750.634766 0)"/> <use href="#DejaVuSans-2d" transform="translate(808.544922 0)"/> <use href="#DejaVuSans-73" transform="translate(844.628906 0)"/> <use href="#DejaVuSans-63" transform="translate(896.728516 0)"/> <use href="#DejaVuSans-61" transform="translate(951.708984 0)"/> <use href="#DejaVuSans-6e" transform="translate(1012.988281 0)"/> </g> </g> <g id="text_24"> <!-- Mamba-2-chunk-state --> <g transform="translate(183.159982 265.214118) scale(0.12 -0.12)"> <use href="#DejaVuSans-4d"/> <use href="#DejaVuSans-61" transform="translate(86.279297 0)"/> <use href="#DejaVuSans-6d" transform="translate(147.558594 0)"/> <use href="#DejaVuSans-62" transform="translate(244.970703 0)"/> <use href="#DejaVuSans-61" transform="translate(308.447266 0)"/> <use href="#DejaVuSans-2d" transform="translate(369.726562 0)"/> <use href="#DejaVuSans-32" transform="translate(405.810547 0)"/> <use href="#DejaVuSans-2d" transform="translate(469.433594 0)"/> <use href="#DejaVuSans-63" transform="translate(505.517578 0)"/> <use href="#DejaVuSans-68" transform="translate(560.498047 0)"/> <use href="#DejaVuSans-75" transform="translate(623.876953 0)"/> <use href="#DejaVuSans-6e" transform="translate(687.255859 0)"/> <use href="#DejaVuSans-6b" transform="translate(750.634766 0)"/> <use href="#DejaVuSans-2d" transform="translate(808.544922 0)"/> <use href="#DejaVuSans-73" transform="translate(844.628906 0)"/> <use href="#DejaVuSans-74" transform="translate(896.728516 0)"/> <use href="#DejaVuSans-61" transform="translate(935.9375 0)"/> <use href="#DejaVuSans-74" transform="translate(997.216797 0)"/> <use href="#DejaVuSans-65" transform="translate(1036.425781 0)"/> </g> </g> <g id="text_25"> <!-- Flash Attention performance on H100 --> <g transform="translate(117.310607 17.731765) scale(0.14 -0.14)"> <defs> <path id="DejaVuSans-20" transform="scale(0.015625)"/> <path id="DejaVuSans-70" d="M 1159 525 L 1159 -1331 L 581 -1331 L 581 3500 L 1159 3500 L 1159 2969 Q 1341 3281 1617 3432 Q 1894 3584 2278 3584 Q 2916 3584 3314 3078 Q 3713 2572 3713 1747 Q 3713 922 3314 415 Q 2916 -91 2278 -91 Q 1894 -91 1617 61 Q 1341 213 1159 525 z M 3116 1747 Q 3116 2381 2855 2742 Q 2594 3103 2138 3103 Q 1681 3103 1420 2742 Q 1159 2381 1159 1747 Q 1159 1113 1420 752 Q 1681 391 2138 391 Q 2594 391 2855 752 Q 3116 1113 3116 1747 z " transform="scale(0.015625)"/> <path id="DejaVuSans-72" d="M 2631 2963 Q 2534 3019 2420 3045 Q 2306 3072 2169 3072 Q 1681 3072 1420 2755 Q 1159 2438 1159 1844 L 1159 0 L 581 0 L 581 3500 L 1159 3500 L 1159 2956 Q 1341 3275 1631 3429 Q 1922 3584 2338 3584 Q 2397 3584 2469 3576 Q 2541 3569 2628 3553 L 2631 2963 z " transform="scale(0.015625)"/> <path id="DejaVuSans-66" d="M 2375 4863 L 2375 4384 L 1825 4384 Q 1516 4384 1395 4259 Q 1275 4134 1275 3809 L 1275 3500 L 2222 3500 L 2222 3053 L 1275 3053 L 1275 0 L 697 0 L 697 3053 L 147 3053 L 147 3500 L 697 3500 L 697 3744 Q 697 4328 969 4595 Q 1241 4863 1831 4863 L 2375 4863 z " transform="scale(0.015625)"/> <path id="DejaVuSans-48" d="M 628 4666 L 1259 4666 L 1259 2753 L 3553 2753 L 3553 4666 L 4184 4666 L 4184 0 L 3553 0 L 3553 2222 L 1259 2222 L 1259 0 L 628 0 L 628 4666 z " transform="scale(0.015625)"/> </defs> <use href="#DejaVuSans-46"/> <use href="#DejaVuSans-6c" transform="translate(57.519531 0)"/> <use href="#DejaVuSans-61" transform="translate(85.302734 0)"/> <use href="#DejaVuSans-73" transform="translate(146.582031 0)"/> <use href="#DejaVuSans-68" transform="translate(198.681641 0)"/> <use href="#DejaVuSans-20" transform="translate(262.060547 0)"/> <use href="#DejaVuSans-41" transform="translate(293.847656 0)"/> <use href="#DejaVuSans-74" transform="translate(360.505859 0)"/> <use href="#DejaVuSans-74" transform="translate(399.714844 0)"/> <use href="#DejaVuSans-65" transform="translate(438.923828 0)"/> <use href="#DejaVuSans-6e" transform="translate(500.447266 0)"/> <use href="#DejaVuSans-74" transform="translate(563.826172 0)"/> <use href="#DejaVuSans-69" transform="translate(603.035156 0)"/> <use href="#DejaVuSans-6f" transform="translate(630.818359 0)"/> <use href="#DejaVuSans-6e" transform="translate(692 0)"/> <use href="#DejaVuSans-20" transform="translate(755.378906 0)"/> <use href="#DejaVuSans-70" transform="translate(787.166016 0)"/> <use href="#DejaVuSans-65" transform="translate(850.642578 0)"/> <use href="#DejaVuSans-72" transform="translate(912.166016 0)"/> <use href="#DejaVuSans-66" transform="translate(953.279297 0)"/> <use href="#DejaVuSans-6f" transform="translate(988.484375 0)"/> <use href="#DejaVuSans-72" transform="translate(1049.666016 0)"/> <use href="#DejaVuSans-6d" transform="translate(1089.029297 0)"/> <use href="#DejaVuSans-61" transform="translate(1186.441406 0)"/> <use href="#DejaVuSans-6e" transform="translate(1247.720703 0)"/> <use href="#DejaVuSans-63" transform="translate(1311.099609 0)"/> <use href="#DejaVuSans-65" transform="translate(1366.080078 0)"/> <use href="#DejaVuSans-20" transform="translate(1427.603516 0)"/> <use href="#DejaVuSans-6f" transform="translate(1459.390625 0)"/> <use href="#DejaVuSans-6e" transform="translate(1520.572266 0)"/> <use href="#DejaVuSans-20" transform="translate(1583.951172 0)"/> <use href="#DejaVuSans-48" transform="translate(1615.738281 0)"/> <use href="#DejaVuSans-31" transform="translate(1690.933594 0)"/> <use href="#DejaVuSans-30" transform="translate(1754.556641 0)"/> <use href="#DejaVuSans-30" transform="translate(1818.179688 0)"/> </g> </g> <g id="text_26"> <!-- Normalized latency Vs. TileLang --> <g transform="translate(18.550588 306.709122) rotate(-90) scale(0.15 -0.15)"> <defs> <path id="DejaVuSans-4e" d="M 628 4666 L 1478 4666 L 3547 763 L 3547 4666 L 4159 4666 L 4159 0 L 3309 0 L 1241 3903 L 1241 0 L 628 0 L 628 4666 z " transform="scale(0.015625)"/> <path id="DejaVuSans-7a" d="M 353 3500 L 3084 3500 L 3084 2975 L 922 459 L 3084 459 L 3084 0 L 275 0 L 275 525 L 2438 3041 L 353 3041 L 353 3500 z " transform="scale(0.015625)"/> <path id="DejaVuSans-64" d="M 2906 2969 L 2906 4863 L 3481 4863 L 3481 0 L 2906 0 L 2906 525 Q 2725 213 2448 61 Q 2172 -91 1784 -91 Q 1150 -91 751 415 Q 353 922 353 1747 Q 353 2572 751 3078 Q 1150 3584 1784 3584 Q 2172 3584 2448 3432 Q 2725 3281 2906 2969 z M 947 1747 Q 947 1113 1208 752 Q 1469 391 1925 391 Q 2381 391 2643 752 Q 2906 1113 2906 1747 Q 2906 2381 2643 2742 Q 2381 3103 1925 3103 Q 1469 3103 1208 2742 Q 947 2381 947 1747 z " transform="scale(0.015625)"/> <path id="DejaVuSans-79" d="M 2059 -325 Q 1816 -950 1584 -1140 Q 1353 -1331 966 -1331 L 506 -1331 L 506 -850 L 844 -850 Q 1081 -850 1212 -737 Q 1344 -625 1503 -206 L 1606 56 L 191 3500 L 800 3500 L 1894 763 L 2988 3500 L 3597 3500 L 2059 -325 z " transform="scale(0.015625)"/> <path id="DejaVuSans-56" d="M 1831 0 L 50 4666 L 709 4666 L 2188 738 L 3669 4666 L 4325 4666 L 2547 0 L 1831 0 z " transform="scale(0.015625)"/> <path id="DejaVuSans-2e" d="M 684 794 L 1344 794 L 1344 0 L 684 0 L 684 794 z " transform="scale(0.015625)"/> <path id="DejaVuSans-4c" d="M 628 4666 L 1259 4666 L 1259 531 L 3531 531 L 3531 0 L 628 0 L 628 4666 z " transform="scale(0.015625)"/> <path id="DejaVuSans-67" d="M 2906 1791 Q 2906 2416 2648 2759 Q 2391 3103 1925 3103 Q 1463 3103 1205 2759 Q 947 2416 947 1791 Q 947 1169 1205 825 Q 1463 481 1925 481 Q 2391 481 2648 825 Q 2906 1169 2906 1791 z M 3481 434 Q 3481 -459 3084 -895 Q 2688 -1331 1869 -1331 Q 1566 -1331 1297 -1286 Q 1028 -1241 775 -1147 L 775 -588 Q 1028 -725 1275 -790 Q 1522 -856 1778 -856 Q 2344 -856 2625 -561 Q 2906 -266 2906 331 L 2906 616 Q 2728 306 2450 153 Q 2172 0 1784 0 Q 1141 0 747 490 Q 353 981 353 1791 Q 353 2603 747 3093 Q 1141 3584 1784 3584 Q 2172 3584 2450 3431 Q 2728 3278 2906 2969 L 2906 3500 L 3481 3500 L 3481 434 z " transform="scale(0.015625)"/> </defs> <use href="#DejaVuSans-4e"/> <use href="#DejaVuSans-6f" transform="translate(74.804688 0)"/> <use href="#DejaVuSans-72" transform="translate(135.986328 0)"/> <use href="#DejaVuSans-6d" transform="translate(175.349609 0)"/> <use href="#DejaVuSans-61" transform="translate(272.761719 0)"/> <use href="#DejaVuSans-6c" transform="translate(334.041016 0)"/> <use href="#DejaVuSans-69" transform="translate(361.824219 0)"/> <use href="#DejaVuSans-7a" transform="translate(389.607422 0)"/> <use href="#DejaVuSans-65" transform="translate(442.097656 0)"/> <use href="#DejaVuSans-64" transform="translate(503.621094 0)"/> <use href="#DejaVuSans-20" transform="translate(567.097656 0)"/> <use href="#DejaVuSans-6c" transform="translate(598.884766 0)"/> <use href="#DejaVuSans-61" transform="translate(626.667969 0)"/> <use href="#DejaVuSans-74" transform="translate(687.947266 0)"/> <use href="#DejaVuSans-65" transform="translate(727.15625 0)"/> <use href="#DejaVuSans-6e" transform="translate(788.679688 0)"/> <use href="#DejaVuSans-63" transform="translate(852.058594 0)"/> <use href="#DejaVuSans-79" transform="translate(907.039062 0)"/> <use href="#DejaVuSans-20" transform="translate(966.21875 0)"/> <use href="#DejaVuSans-56" transform="translate(998.005859 0)"/> <use href="#DejaVuSans-73" transform="translate(1066.414062 0)"/> <use href="#DejaVuSans-2e" transform="translate(1118.513672 0)"/> <use href="#DejaVuSans-20" transform="translate(1150.300781 0)"/> <use href="#DejaVuSans-54" transform="translate(1182.087891 0)"/> <use href="#DejaVuSans-69" transform="translate(1240.046875 0)"/> <use href="#DejaVuSans-6c" transform="translate(1267.830078 0)"/> <use href="#DejaVuSans-65" transform="translate(1295.613281 0)"/> <use href="#DejaVuSans-4c" transform="translate(1357.136719 0)"/> <use href="#DejaVuSans-61" transform="translate(1412.849609 0)"/> <use href="#DejaVuSans-6e" transform="translate(1474.128906 0)"/> <use href="#DejaVuSans-67" transform="translate(1537.507812 0)"/> </g> </g> <g id="legend_1"> <g id="patch_58"> <path d="M 77.578824 37.136163 L 96.578824 37.136163 L 96.578824 30.486163 L 77.578824 30.486163 z " style="fill: url(#h620132595f); stroke: #000000; stroke-width: 0.8; stroke-linejoin: miter"/> </g> <g id="text_27"> <!-- TileLang --> <g transform="translate(104.178824 37.136163) scale(0.095 -0.095)"> <use href="#DejaVuSans-54"/> <use href="#DejaVuSans-69" transform="translate(57.958984 0)"/> <use href="#DejaVuSans-6c" transform="translate(85.742188 0)"/> <use href="#DejaVuSans-65" transform="translate(113.525391 0)"/> <use href="#DejaVuSans-4c" transform="translate(175.048828 0)"/> <use href="#DejaVuSans-61" transform="translate(230.761719 0)"/> <use href="#DejaVuSans-6e" transform="translate(292.041016 0)"/> <use href="#DejaVuSans-67" transform="translate(355.419922 0)"/> </g> </g> <g id="patch_59"> <path d="M 162.974917 37.136163 L 181.974917 37.136163 L 181.974917 30.486163 L 162.974917 30.486163 z " style="fill: url(#h289ddef355); stroke: #000000; stroke-width: 0.8; stroke-linejoin: miter"/> </g> <g id="text_28"> <!-- FlashAttention-3 --> <g transform="translate(189.574917 37.136163) scale(0.095 -0.095)"> <use href="#DejaVuSans-46"/> <use href="#DejaVuSans-6c" transform="translate(57.519531 0)"/> <use href="#DejaVuSans-61" transform="translate(85.302734 0)"/> <use href="#DejaVuSans-73" transform="translate(146.582031 0)"/> <use href="#DejaVuSans-68" transform="translate(198.681641 0)"/> <use href="#DejaVuSans-41" transform="translate(262.060547 0)"/> <use href="#DejaVuSans-74" transform="translate(328.71875 0)"/> <use href="#DejaVuSans-74" transform="translate(367.927734 0)"/> <use href="#DejaVuSans-65" transform="translate(407.136719 0)"/> <use href="#DejaVuSans-6e" transform="translate(468.660156 0)"/> <use href="#DejaVuSans-74" transform="translate(532.039062 0)"/> <use href="#DejaVuSans-69" transform="translate(571.248047 0)"/> <use href="#DejaVuSans-6f" transform="translate(599.03125 0)"/> <use href="#DejaVuSans-6e" transform="translate(660.212891 0)"/> <use href="#DejaVuSans-2d" transform="translate(723.591797 0)"/> <use href="#DejaVuSans-33" transform="translate(759.675781 0)"/> </g> </g> <g id="patch_60"> <path d="M 286.785152 37.136163 L 305.785152 37.136163 L 305.785152 30.486163 L 286.785152 30.486163 z " style="fill: url(#h3085ee2d03); stroke: #000000; stroke-width: 0.8; stroke-linejoin: miter"/> </g> <g id="text_29"> <!-- Triton --> <g transform="translate(313.385152 37.136163) scale(0.095 -0.095)"> <use href="#DejaVuSans-54"/> <use href="#DejaVuSans-72" transform="translate(46.333984 0)"/> <use href="#DejaVuSans-69" transform="translate(87.447266 0)"/> <use href="#DejaVuSans-74" transform="translate(115.230469 0)"/> <use href="#DejaVuSans-6f" transform="translate(154.439453 0)"/> <use href="#DejaVuSans-6e" transform="translate(215.621094 0)"/> </g> </g> <g id="patch_61"> <path d="M 358.888667 37.136163 L 377.888667 37.136163 L 377.888667 30.486163 L 358.888667 30.486163 z " style="fill: url(#h5ad2b0692a); stroke: #000000; stroke-width: 0.8; stroke-linejoin: miter"/> </g> <g id="text_30"> <!-- PyTorch --> <g transform="translate(385.488667 37.136163) scale(0.095 -0.095)"> <defs> <path id="DejaVuSans-50" d="M 1259 4147 L 1259 2394 L 2053 2394 Q 2494 2394 2734 2622 Q 2975 2850 2975 3272 Q 2975 3691 2734 3919 Q 2494 4147 2053 4147 L 1259 4147 z M 628 4666 L 2053 4666 Q 2838 4666 3239 4311 Q 3641 3956 3641 3272 Q 3641 2581 3239 2228 Q 2838 1875 2053 1875 L 1259 1875 L 1259 0 L 628 0 L 628 4666 z " transform="scale(0.015625)"/> </defs> <use href="#DejaVuSans-50"/> <use href="#DejaVuSans-79" transform="translate(60.302734 0)"/> <use href="#DejaVuSans-54" transform="translate(119.482422 0)"/> <use href="#DejaVuSans-6f" transform="translate(163.566406 0)"/> <use href="#DejaVuSans-72" transform="translate(224.748047 0)"/> <use href="#DejaVuSans-63" transform="translate(263.611328 0)"/> <use href="#DejaVuSans-68" transform="translate(318.591797 0)"/> </g> </g> </g> </g> <defs> <clipPath id="pe64298fb3a"> <rect x="37.694118" y="49.778824" width="422.682353" height="71.04"/> </clipPath> <clipPath id="p5a25ac48e3"> <rect x="37.694118" y="149.223529" width="422.682353" height="71.04"/> </clipPath> <clipPath id="pf09d3c4350"> <rect x="37.694118" y="248.682353" width="422.682353" height="71.082353"/> </clipPath> </defs> <defs> <pattern id="h620132595f" patternUnits="userSpaceOnUse" x="0" y="0" width="72" height="72"> <rect x="0" y="0" width="73" height="73" fill="#e5bec8"/> <path d="M0 68 L-1.176 70.382 L-3.804 70.764 L-1.902 72.618 L-2.351 75.236 L-0 74 L2.351 75.236 L1.902 72.618 L3.804 70.764 L1.176 70.382 L0 68M12 68 L10.824 70.382 L8.196 70.764 L10.098 72.618 L9.649 75.236 L12 74 L14.351 75.236 L13.902 72.618 L15.804 70.764 L13.176 70.382 L12 68M24 68 L22.824 70.382 L20.196 70.764 L22.098 72.618 L21.649 75.236 L24 74 L26.351 75.236 L25.902 72.618 L27.804 70.764 L25.176 70.382 L24 68M36 68 L34.824 70.382 L32.196 70.764 L34.098 72.618 L33.649 75.236 L36 74 L38.351 75.236 L37.902 72.618 L39.804 70.764 L37.176 70.382 L36 68M48 68 L46.824 70.382 L44.196 70.764 L46.098 72.618 L45.649 75.236 L48 74 L50.351 75.236 L49.902 72.618 L51.804 70.764 L49.176 70.382 L48 68M60 68 L58.824 70.382 L56.196 70.764 L58.098 72.618 L57.649 75.236 L60 74 L62.351 75.236 L61.902 72.618 L63.804 70.764 L61.176 70.382 L60 68M72 68 L70.824 70.382 L68.196 70.764 L70.098 72.618 L69.649 75.236 L72 74 L74.351 75.236 L73.902 72.618 L75.804 70.764 L73.176 70.382 L72 68M6 56 L4.824 58.382 L2.196 58.764 L4.098 60.618 L3.649 63.236 L6 62 L8.351 63.236 L7.902 60.618 L9.804 58.764 L7.176 58.382 L6 56M18 56 L16.824 58.382 L14.196 58.764 L16.098 60.618 L15.649 63.236 L18 62 L20.351 63.236 L19.902 60.618 L21.804 58.764 L19.176 58.382 L18 56M30 56 L28.824 58.382 L26.196 58.764 L28.098 60.618 L27.649 63.236 L30 62 L32.351 63.236 L31.902 60.618 L33.804 58.764 L31.176 58.382 L30 56M42 56 L40.824 58.382 L38.196 58.764 L40.098 60.618 L39.649 63.236 L42 62 L44.351 63.236 L43.902 60.618 L45.804 58.764 L43.176 58.382 L42 56M54 56 L52.824 58.382 L50.196 58.764 L52.098 60.618 L51.649 63.236 L54 62 L56.351 63.236 L55.902 60.618 L57.804 58.764 L55.176 58.382 L54 56M66 56 L64.824 58.382 L62.196 58.764 L64.098 60.618 L63.649 63.236 L66 62 L68.351 63.236 L67.902 60.618 L69.804 58.764 L67.176 58.382 L66 56M0 44 L-1.176 46.382 L-3.804 46.764 L-1.902 48.618 L-2.351 51.236 L-0 50 L2.351 51.236 L1.902 48.618 L3.804 46.764 L1.176 46.382 L0 44M12 44 L10.824 46.382 L8.196 46.764 L10.098 48.618 L9.649 51.236 L12 50 L14.351 51.236 L13.902 48.618 L15.804 46.764 L13.176 46.382 L12 44M24 44 L22.824 46.382 L20.196 46.764 L22.098 48.618 L21.649 51.236 L24 50 L26.351 51.236 L25.902 48.618 L27.804 46.764 L25.176 46.382 L24 44M36 44 L34.824 46.382 L32.196 46.764 L34.098 48.618 L33.649 51.236 L36 50 L38.351 51.236 L37.902 48.618 L39.804 46.764 L37.176 46.382 L36 44M48 44 L46.824 46.382 L44.196 46.764 L46.098 48.618 L45.649 51.236 L48 50 L50.351 51.236 L49.902 48.618 L51.804 46.764 L49.176 46.382 L48 44M60 44 L58.824 46.382 L56.196 46.764 L58.098 48.618 L57.649 51.236 L60 50 L62.351 51.236 L61.902 48.618 L63.804 46.764 L61.176 46.382 L60 44M72 44 L70.824 46.382 L68.196 46.764 L70.098 48.618 L69.649 51.236 L72 50 L74.351 51.236 L73.902 48.618 L75.804 46.764 L73.176 46.382 L72 44M6 32 L4.824 34.382 L2.196 34.764 L4.098 36.618 L3.649 39.236 L6 38 L8.351 39.236 L7.902 36.618 L9.804 34.764 L7.176 34.382 L6 32M18 32 L16.824 34.382 L14.196 34.764 L16.098 36.618 L15.649 39.236 L18 38 L20.351 39.236 L19.902 36.618 L21.804 34.764 L19.176 34.382 L18 32M30 32 L28.824 34.382 L26.196 34.764 L28.098 36.618 L27.649 39.236 L30 38 L32.351 39.236 L31.902 36.618 L33.804 34.764 L31.176 34.382 L30 32M42 32 L40.824 34.382 L38.196 34.764 L40.098 36.618 L39.649 39.236 L42 38 L44.351 39.236 L43.902 36.618 L45.804 34.764 L43.176 34.382 L42 32M54 32 L52.824 34.382 L50.196 34.764 L52.098 36.618 L51.649 39.236 L54 38 L56.351 39.236 L55.902 36.618 L57.804 34.764 L55.176 34.382 L54 32M66 32 L64.824 34.382 L62.196 34.764 L64.098 36.618 L63.649 39.236 L66 38 L68.351 39.236 L67.902 36.618 L69.804 34.764 L67.176 34.382 L66 32M0 20 L-1.176 22.382 L-3.804 22.764 L-1.902 24.618 L-2.351 27.236 L-0 26 L2.351 27.236 L1.902 24.618 L3.804 22.764 L1.176 22.382 L0 20M12 20 L10.824 22.382 L8.196 22.764 L10.098 24.618 L9.649 27.236 L12 26 L14.351 27.236 L13.902 24.618 L15.804 22.764 L13.176 22.382 L12 20M24 20 L22.824 22.382 L20.196 22.764 L22.098 24.618 L21.649 27.236 L24 26 L26.351 27.236 L25.902 24.618 L27.804 22.764 L25.176 22.382 L24 20M36 20 L34.824 22.382 L32.196 22.764 L34.098 24.618 L33.649 27.236 L36 26 L38.351 27.236 L37.902 24.618 L39.804 22.764 L37.176 22.382 L36 20M48 20 L46.824 22.382 L44.196 22.764 L46.098 24.618 L45.649 27.236 L48 26 L50.351 27.236 L49.902 24.618 L51.804 22.764 L49.176 22.382 L48 20M60 20 L58.824 22.382 L56.196 22.764 L58.098 24.618 L57.649 27.236 L60 26 L62.351 27.236 L61.902 24.618 L63.804 22.764 L61.176 22.382 L60 20M72 20 L70.824 22.382 L68.196 22.764 L70.098 24.618 L69.649 27.236 L72 26 L74.351 27.236 L73.902 24.618 L75.804 22.764 L73.176 22.382 L72 20M6 8 L4.824 10.382 L2.196 10.764 L4.098 12.618 L3.649 15.236 L6 14 L8.351 15.236 L7.902 12.618 L9.804 10.764 L7.176 10.382 L6 8M18 8 L16.824 10.382 L14.196 10.764 L16.098 12.618 L15.649 15.236 L18 14 L20.351 15.236 L19.902 12.618 L21.804 10.764 L19.176 10.382 L18 8M30 8 L28.824 10.382 L26.196 10.764 L28.098 12.618 L27.649 15.236 L30 14 L32.351 15.236 L31.902 12.618 L33.804 10.764 L31.176 10.382 L30 8M42 8 L40.824 10.382 L38.196 10.764 L40.098 12.618 L39.649 15.236 L42 14 L44.351 15.236 L43.902 12.618 L45.804 10.764 L43.176 10.382 L42 8M54 8 L52.824 10.382 L50.196 10.764 L52.098 12.618 L51.649 15.236 L54 14 L56.351 15.236 L55.902 12.618 L57.804 10.764 L55.176 10.382 L54 8M66 8 L64.824 10.382 L62.196 10.764 L64.098 12.618 L63.649 15.236 L66 14 L68.351 15.236 L67.902 12.618 L69.804 10.764 L67.176 10.382 L66 8M0 -4 L-1.176 -1.618 L-3.804 -1.236 L-1.902 0.618 L-2.351 3.236 L-0 2 L2.351 3.236 L1.902 0.618 L3.804 -1.236 L1.176 -1.618 L0 -4M12 -4 L10.824 -1.618 L8.196 -1.236 L10.098 0.618 L9.649 3.236 L12 2 L14.351 3.236 L13.902 0.618 L15.804 -1.236 L13.176 -1.618 L12 -4M24 -4 L22.824 -1.618 L20.196 -1.236 L22.098 0.618 L21.649 3.236 L24 2 L26.351 3.236 L25.902 0.618 L27.804 -1.236 L25.176 -1.618 L24 -4M36 -4 L34.824 -1.618 L32.196 -1.236 L34.098 0.618 L33.649 3.236 L36 2 L38.351 3.236 L37.902 0.618 L39.804 -1.236 L37.176 -1.618 L36 -4M48 -4 L46.824 -1.618 L44.196 -1.236 L46.098 0.618 L45.649 3.236 L48 2 L50.351 3.236 L49.902 0.618 L51.804 -1.236 L49.176 -1.618 L48 -4M60 -4 L58.824 -1.618 L56.196 -1.236 L58.098 0.618 L57.649 3.236 L60 2 L62.351 3.236 L61.902 0.618 L63.804 -1.236 L61.176 -1.618 L60 -4M72 -4 L70.824 -1.618 L68.196 -1.236 L70.098 0.618 L69.649 3.236 L72 2 L74.351 3.236 L73.902 0.618 L75.804 -1.236 L73.176 -1.618 L72 -4" style="fill:none;stroke:#000;stroke-width:1.0;stroke-linejoin:miter;stroke-miterlimit:10"/></pattern> <pattern id="h289ddef355" patternUnits="userSpaceOnUse" x="0" y="0" width="72" height="72"> <rect x="0" y="0" width="73" height="73" fill="#f5f2eb"/> <path d="M 0 66 L 72 66 M 0 54 L 72 54 M 0 42 L 72 42 M 0 30 L 72 30 M 0 18 L 72 18 M 0 6 L 72 6 " style="fill: #000000; stroke: #000000; stroke-width: 1.0; stroke-linecap: butt; stroke-linejoin: miter"/></pattern> <pattern id="h3085ee2d03" patternUnits="userSpaceOnUse" x="0" y="0" width="72" height="72"> <rect x="0" y="0" width="73" height="73" fill="#c7d9e6"/> <path d="M -36 36 L 36 108 M -24 24 L 48 96 M -12 12 L 60 84 M 0 0 L 72 72 M 12 -12 L 84 60 M 24 -24 L 96 48 M 36 -36 L 108 36 " style="fill: #000000; stroke: #000000; stroke-width: 1.0; stroke-linecap: butt; stroke-linejoin: miter"/></pattern> <pattern id="h5ad2b0692a" patternUnits="userSpaceOnUse" x="0" y="0" width="72" height="72"> <rect x="0" y="0" width="73" height="73" fill="#f3e6d3"/> <g style="fill:none;stroke:#000;stroke-width:1.0"><circle cx="0" cy="72" r="1.2"/><circle cx="12" cy="72" r="1.2"/><circle cx="24" cy="72" r="1.2"/><circle cx="36" cy="72" r="1.2"/><circle cx="48" cy="72" r="1.2"/><circle cx="60" cy="72" r="1.2"/><circle cx="72" cy="72" r="1.2"/><circle cx="6" cy="60" r="1.2"/><circle cx="18" cy="60" r="1.2"/><circle cx="30" cy="60" r="1.2"/><circle cx="42" cy="60" r="1.2"/><circle cx="54" cy="60" r="1.2"/><circle cx="66" cy="60" r="1.2"/><circle cx="0" cy="48" r="1.2"/><circle cx="12" cy="48" r="1.2"/><circle cx="24" cy="48" r="1.2"/><circle cx="36" cy="48" r="1.2"/><circle cx="48" cy="48" r="1.2"/><circle cx="60" cy="48" r="1.2"/><circle cx="72" cy="48" r="1.2"/><circle cx="6" cy="36" r="1.2"/><circle cx="18" cy="36" r="1.2"/><circle cx="30" cy="36" r="1.2"/><circle cx="42" cy="36" r="1.2"/><circle cx="54" cy="36" r="1.2"/><circle cx="66" cy="36" r="1.2"/><circle cx="0" cy="24" r="1.2"/><circle cx="12" cy="24" r="1.2"/><circle cx="24" cy="24" r="1.2"/><circle cx="36" cy="24" r="1.2"/><circle cx="48" cy="24" r="1.2"/><circle cx="60" cy="24" r="1.2"/><circle cx="72" cy="24" r="1.2"/><circle cx="6" cy="12" r="1.2"/><circle cx="18" cy="12" r="1.2"/><circle cx="30" cy="12" r="1.2"/><circle cx="42" cy="12" r="1.2"/><circle cx="54" cy="12" r="1.2"/><circle cx="66" cy="12" r="1.2"/><circle cx="0" cy="0" r="1.2"/><circle cx="12" cy="0" r="1.2"/><circle cx="24" cy="0" r="1.2"/><circle cx="36" cy="0" r="1.2"/><circle cx="48" cy="0" r="1.2"/><circle cx="60" cy="0" r="1.2"/><circle cx="72" cy="0" r="1.2"/></g></pattern> </defs> </svg> 
</body></html>
